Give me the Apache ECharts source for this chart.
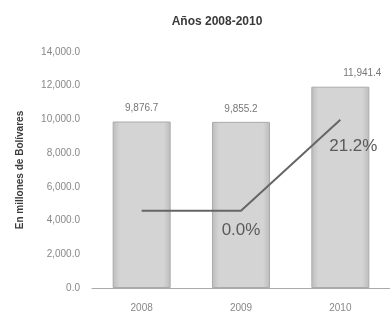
<!DOCTYPE html>
<html>
<head>
<meta charset="utf-8">
<script src="https://cdn.jsdelivr.net/npm/echarts@6/dist/echarts.min.js"></script>
<style>
  html, body { margin: 0; padding: 0; background: #fff; }
  #chart { width: 390px; height: 318px; }
</style>
</head>
<body>
<div id="chart"></div>
<script>
let years = ['2008', '2009', '2010'];
let montos = [9876.7, 9855.2, 11941.4];
let variacion = [0.0, 0.0, 21.2];
let varLabels = ['', '0.0%', '21.2%'];

let chart = echarts.init(document.getElementById('chart'));

function fmt1(v) {
    return v.toLocaleString('en-US', { minimumFractionDigits: 1, maximumFractionDigits: 1 });
}

// bar labels: last one sits a bit to the right in the picture
let barData = montos.map(function (v, i) {
    let item = { value: v };
    if (i === 2) item.label = { offset: [22, 0] };
    return item;
});

let lineData = variacion.map(function (v, i) {
    return { value: v, label: { show: varLabels[i] !== '', formatter: varLabels[i] } };
});
lineData[1].label.offset = [0, 5];
lineData[2].label.offset = [13, 12];

let option = {
    animation: false,
    title: {
        text: 'Años 2008-2010',
        left: 212,
        top: 11,
        textAlign: 'center',
        textStyle: { fontSize: 12, fontWeight: 'bold', color: '#3a3a3a', fontFamily: 'Liberation Sans' }
    },
    grid: { left: 92, top: 52, width: 303, height: 236 },
    xAxis: {
        type: 'category',
        data: years,
        axisLine: { lineStyle: { color: '#aaa', width: 1 } },
        axisTick: { show: false },
        axisLabel: { color: '#888', fontSize: 10, margin: 15, fontFamily: 'Liberation Sans' }
    },
    yAxis: [{
        type: 'value',
        min: 0,
        max: 14000,
        interval: 2000,
        name: 'En millones de Bolívares',
        nameLocation: 'middle',
        nameGap: 67,
        nameTextStyle: { fontSize: 10, fontWeight: 'bold', color: '#3a3a3a', fontFamily: 'Liberation Sans' },
        axisLine: { show: false },
        axisTick: { show: false },
        splitLine: { show: false },
        axisLabel: { color: '#888', fontSize: 10, margin: 12, fontFamily: 'Liberation Sans', formatter: fmt1 }
    }, {
        type: 'value',
        min: -18,
        max: 37,
        show: false
    }],
    series: [{
        name: 'monto',
        type: 'bar',
        data: barData,
        barWidth: 58,
        itemStyle: {
            color: new echarts.graphic.LinearGradient(0, 0, 1, 0, [
                { offset: 0, color: '#bcbcbc' },
                { offset: 0.12, color: '#d4d4d4' },
                { offset: 0.88, color: '#d4d4d4' },
                { offset: 1, color: '#bcbcbc' }
            ]),
            borderColor: '#aaa',
            borderWidth: 1
        },
        label: {
            show: true,
            position: 'top',
            distance: 8,
            color: '#777',
            fontSize: 10,
            fontFamily: 'Liberation Sans',
            formatter: function (p) { return fmt1(p.value); }
        }
    }, {
        name: 'variacion',
        type: 'line',
        yAxisIndex: 1,
        data: lineData,
        symbol: 'circle',
        symbolSize: 1,
        itemStyle: { color: 'rgba(0,0,0,0)' },
        lineStyle: { color: '#666', width: 2 },
        label: {
            position: 'bottom',
            distance: 6,
            color: '#5a5a5a',
            fontSize: 17,
            fontFamily: 'Liberation Sans'
        }
    }]
};

chart.setOption(option);
</script>
</body>
</html>
